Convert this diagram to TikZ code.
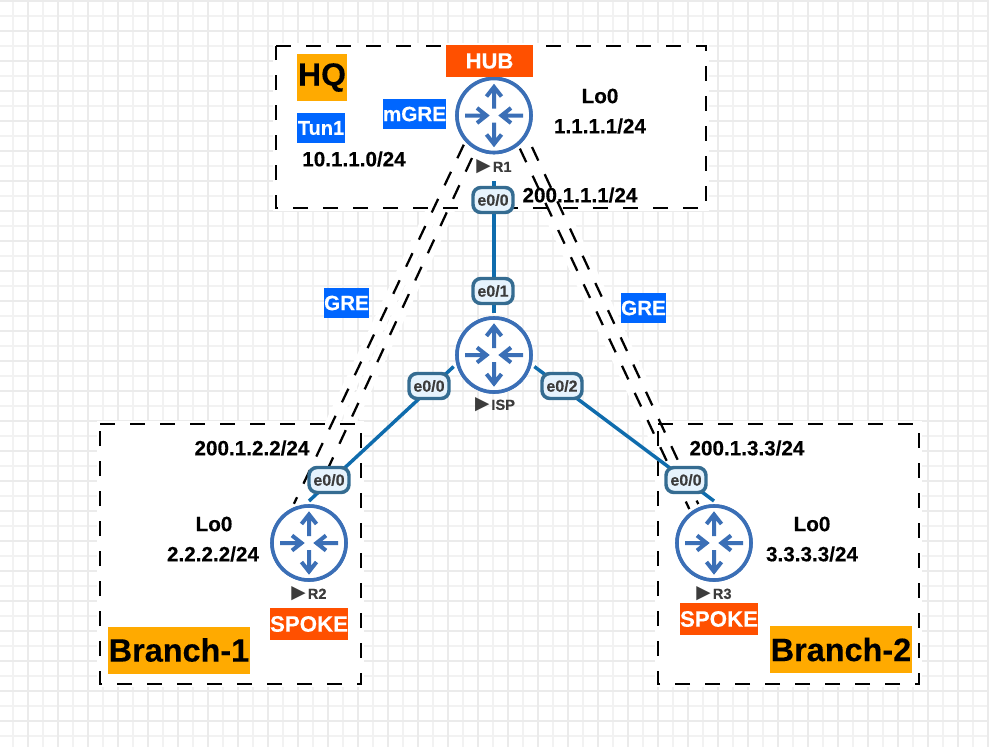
\documentclass[tikz,border=0pt]{standalone}
\usepackage{fontspec}
\setmainfont{Liberation Sans}[BoldFeatures={FakeBold=0.25}]
\newfontfamily\symfont{DejaVu Sans}
\usetikzlibrary{calc}
\definecolor{gridmajor}{HTML}{EBEBEB}
\definecolor{gridminor}{HTML}{F2F2F2}
\definecolor{tagorange}{HTML}{FFAA00}
\definecolor{tagred}{HTML}{FF5000}
\definecolor{tagblue}{HTML}{0066FF}
\definecolor{linkblue}{HTML}{0F6CAD}
\definecolor{portline}{HTML}{356C91}
\definecolor{portfill}{HTML}{E6F3FD}
\definecolor{routerblue}{HTML}{3B6FB6}
\definecolor{darktext}{HTML}{3C3C3C}
\tikzset{
  boxdash/.style={draw=black,line width=1.9pt,dash pattern=on 11.25pt off 11.25pt},
  boxwhite/.style={draw=white,fill=white,line width=4.5pt},
  halo/.style={draw=white,line width=10pt},
  tunnel/.style={draw=black,line width=1.7pt,dash pattern=on 11.25pt off 11.25pt},
  linkline/.style={draw=linkblue,line width=2.6pt},
  routernode/.style={circle,draw=routerblue,fill=white,line width=2.7pt,minimum size=55.5pt,inner sep=0pt,outer sep=3.75pt},
  rarrow/.style={draw=routerblue,line width=3pt,miter limit=10},
  routerlabel/.style={text=darktext,font=\bfseries\fontsize{11}{12}\selectfont,inner sep=0pt,minimum height=15pt,outer sep=3pt},
  portnode/.style={draw=portline,fill=portfill,line width=2.6pt,rounded corners=6pt,minimum width=30pt,minimum height=18.75pt,inner sep=0pt,text=darktext,font=\bfseries\fontsize{12}{12}\selectfont},
  tagbox/.style={inner sep=0pt,font=\bfseries},
  plain/.style={inner sep=0pt,text=black,font=\bfseries\fontsize{15.5}{17}\selectfont},
}
\newcommand{\routericon}[1]{%
  \begin{scope}[shift={(#1)}]
    \draw[rarrow] (0,-7)--(0,-27) (-7.5,-19)--(0,-28.5)--(7.5,-19);
    \draw[rarrow] (0,7)--(0,27) (-7.5,19)--(0,28.5)--(7.5,19);
    \draw[rarrow] (-29,0)--(-9,0) (-17,-7.5)--(-7.5,0)--(-17,7.5);
    \draw[rarrow] (29,0)--(9,0) (17,-7.5)--(7.5,0)--(17,7.5);
  \end{scope}}
\newcommand{\tri}{{\symfont\fontsize{14}{14}\selectfont ▶}\kern1.5pt}
\begin{document}
\begin{tikzpicture}[x=0.75pt,y=-0.75pt]
\useasboundingbox (0,0) rectangle (989,747);
\fill[white] (0,0) rectangle (989,747);
\begin{scope}
\clip (0,0) rectangle (989,747);
\foreach \k in {0,...,66} {\draw[gridminor,line width=1.1pt] (13+15*\k,0) -- (13+15*\k,747);}
\foreach \k in {0,...,50} {\draw[gridminor,line width=1.1pt] (0,16+15*\k) -- (989,16+15*\k);}
\foreach \k in {0,...,33} {\draw[gridmajor,line width=1.5pt] (28+30*\k,0) -- (28+30*\k,747);}
\foreach \k in {0,...,25} {\draw[gridmajor,line width=1.5pt] (0,1+30*\k) -- (989,1+30*\k);}
\end{scope}
% white box interiors
\path[boxwhite] (276,46) rectangle (706,208);
\path[boxwhite] (100,424) rectangle (361,684);
\path[boxwhite] (658,424) rectangle (919,684);
% routers (placed first so that connectors can name them)
\path node[routernode] (R1) at (494,115.5) {}
      node[routernode] (ISP) at (494,355) {}
      node[routernode] (R2) at (309,543) {}
      node[routernode] (R3) at (714,543) {};
\coordinate (b1) at (472,158);
\coordinate (b2) at (318,490);
\coordinate (d1) at (532,147);
% tunnel halos
\path[halo] (R1.224.5) -- (R2.111);
\path[halo] (b1) -- (b2);
\path[halo] (R1.-52.7) -- (R3.126);
\path[halo] (d1) -- (R3.112);
% dashed frames
\draw[boxdash] (276,46) -- (706,46) -- (706,208) -- (276,208) -- cycle;
\draw[boxdash] (100,424) -- (361,424) -- (361,684) -- (100,684) -- cycle;
\draw[boxdash] (658,424) -- (919,424) -- (919,684) -- (658,684) -- cycle;
% tunnels
\draw[tunnel] (R1.224.5) -- (R2.111);
\draw[tunnel] (b1) -- (b2);
\draw[tunnel] (R1.-52.7) -- (R3.126);
\draw[tunnel] (d1) -- (R3.112);
% router labels
\node[routerlabel] (R1lab) at (494,167) {\tri R1};
\node[routerlabel] (ISPlab) at (495,405) {\tri ISP};
\node[routerlabel] (R2lab) at (309,594) {\tri R2};
\node[routerlabel] (R3lab) at (714,594) {\tri R3};
% links
\draw[linkline] (R1lab) -- (ISP);
\draw[linkline] (ISP.196) -- (R2.north);
\draw[linkline] (ISP.-16) -- (R3.north);
% redraw router faces
\node[routernode] at (R1) {};
\node[routernode] at (ISP) {};
\node[routernode] at (R2) {};
\node[routernode] at (R3) {};
\routericon{R1}\routericon{ISP}\routericon{R2}\routericon{R3}
% ports
\node[portnode] (p1) at (493,200) {e0/0};
\node[portnode] (p2) at (493,291) {e0/1};
\node[portnode] (p3) at (429,386) {e0/0};
\node[portnode] (p4) at (562,386) {e0/2};
\node[portnode] (p5) at (329,480) {e0/0};
\node[portnode] (p6) at (686,480) {e0/0};
% tags
\node[tagbox,fill=tagorange,minimum width=37.5pt,minimum height=35.25pt,text=black] (thq) at (322,77.5) {\fontsize{24}{26}\selectfont HQ};
\node[tagbox,fill=tagblue,minimum width=36pt,minimum height=22.5pt,text=white] (ttun) at (321,128) {\fontsize{15}{16}\selectfont Tun1};
\node[tagbox,fill=tagblue,minimum width=47.25pt,minimum height=22.5pt,text=white] (tmgre) at (414.5,114) {\fontsize{15.5}{16}\selectfont mGRE};
\node[tagbox,fill=tagred,minimum width=65.25pt,minimum height=24pt,text=white] (thub) at (489.5,61) {\fontsize{16.5}{18}\selectfont HUB};
\node[tagbox,fill=tagblue,minimum width=33.75pt,minimum height=22.5pt,text=white] (tg1) at (346.5,303) {\fontsize{15.5}{16}\selectfont GRE};
\node[tagbox,fill=tagblue,minimum width=33.75pt,minimum height=22.5pt,text=white] (tg2) at (643.5,308) {\fontsize{15.5}{16}\selectfont GRE};
\node[tagbox,fill=tagred,minimum width=58.5pt,minimum height=24pt,text=white] (ts1) at (309,624) {\fontsize{16.7}{18}\selectfont SPOKE};
\node[tagbox,fill=tagred,minimum width=58.5pt,minimum height=24pt,text=white] (ts2) at (719,619) {\fontsize{16.7}{18}\selectfont SPOKE};
\node[tagbox,fill=tagorange,minimum width=106.5pt,minimum height=35.25pt,text=black] (tb1) at (179,650) {\fontsize{24.3}{26}\selectfont Branch-1};
\node[tagbox,fill=tagorange,minimum width=106.5pt,minimum height=35.25pt,text=black] (tb2) at (841,649.5) {\fontsize{24.3}{26}\selectfont Branch-2};
% plain labels
\node[plain] (a1) at (600,96) {Lo0};
\node[plain] (a2) at (600,126) {1.1.1.1/24};
\node[plain] (a3) at (354,159) {10.1.1.0/24};
\node[plain] (a4) at (580,195) {200.1.1.1/24};
\node[plain] (a5) at (252,448) {200.1.2.2/24};
\node[plain] (a6) at (747,448) {200.1.3.3/24};
\node[plain] (a7) at (214,524) {Lo0};
\node[plain] (a8) at (213,554) {2.2.2.2/24};
\node[plain] (a9) at (812,524) {Lo0};
\node[plain] (a10) at (812,554) {3.3.3.3/24};
\end{tikzpicture}
\end{document}
